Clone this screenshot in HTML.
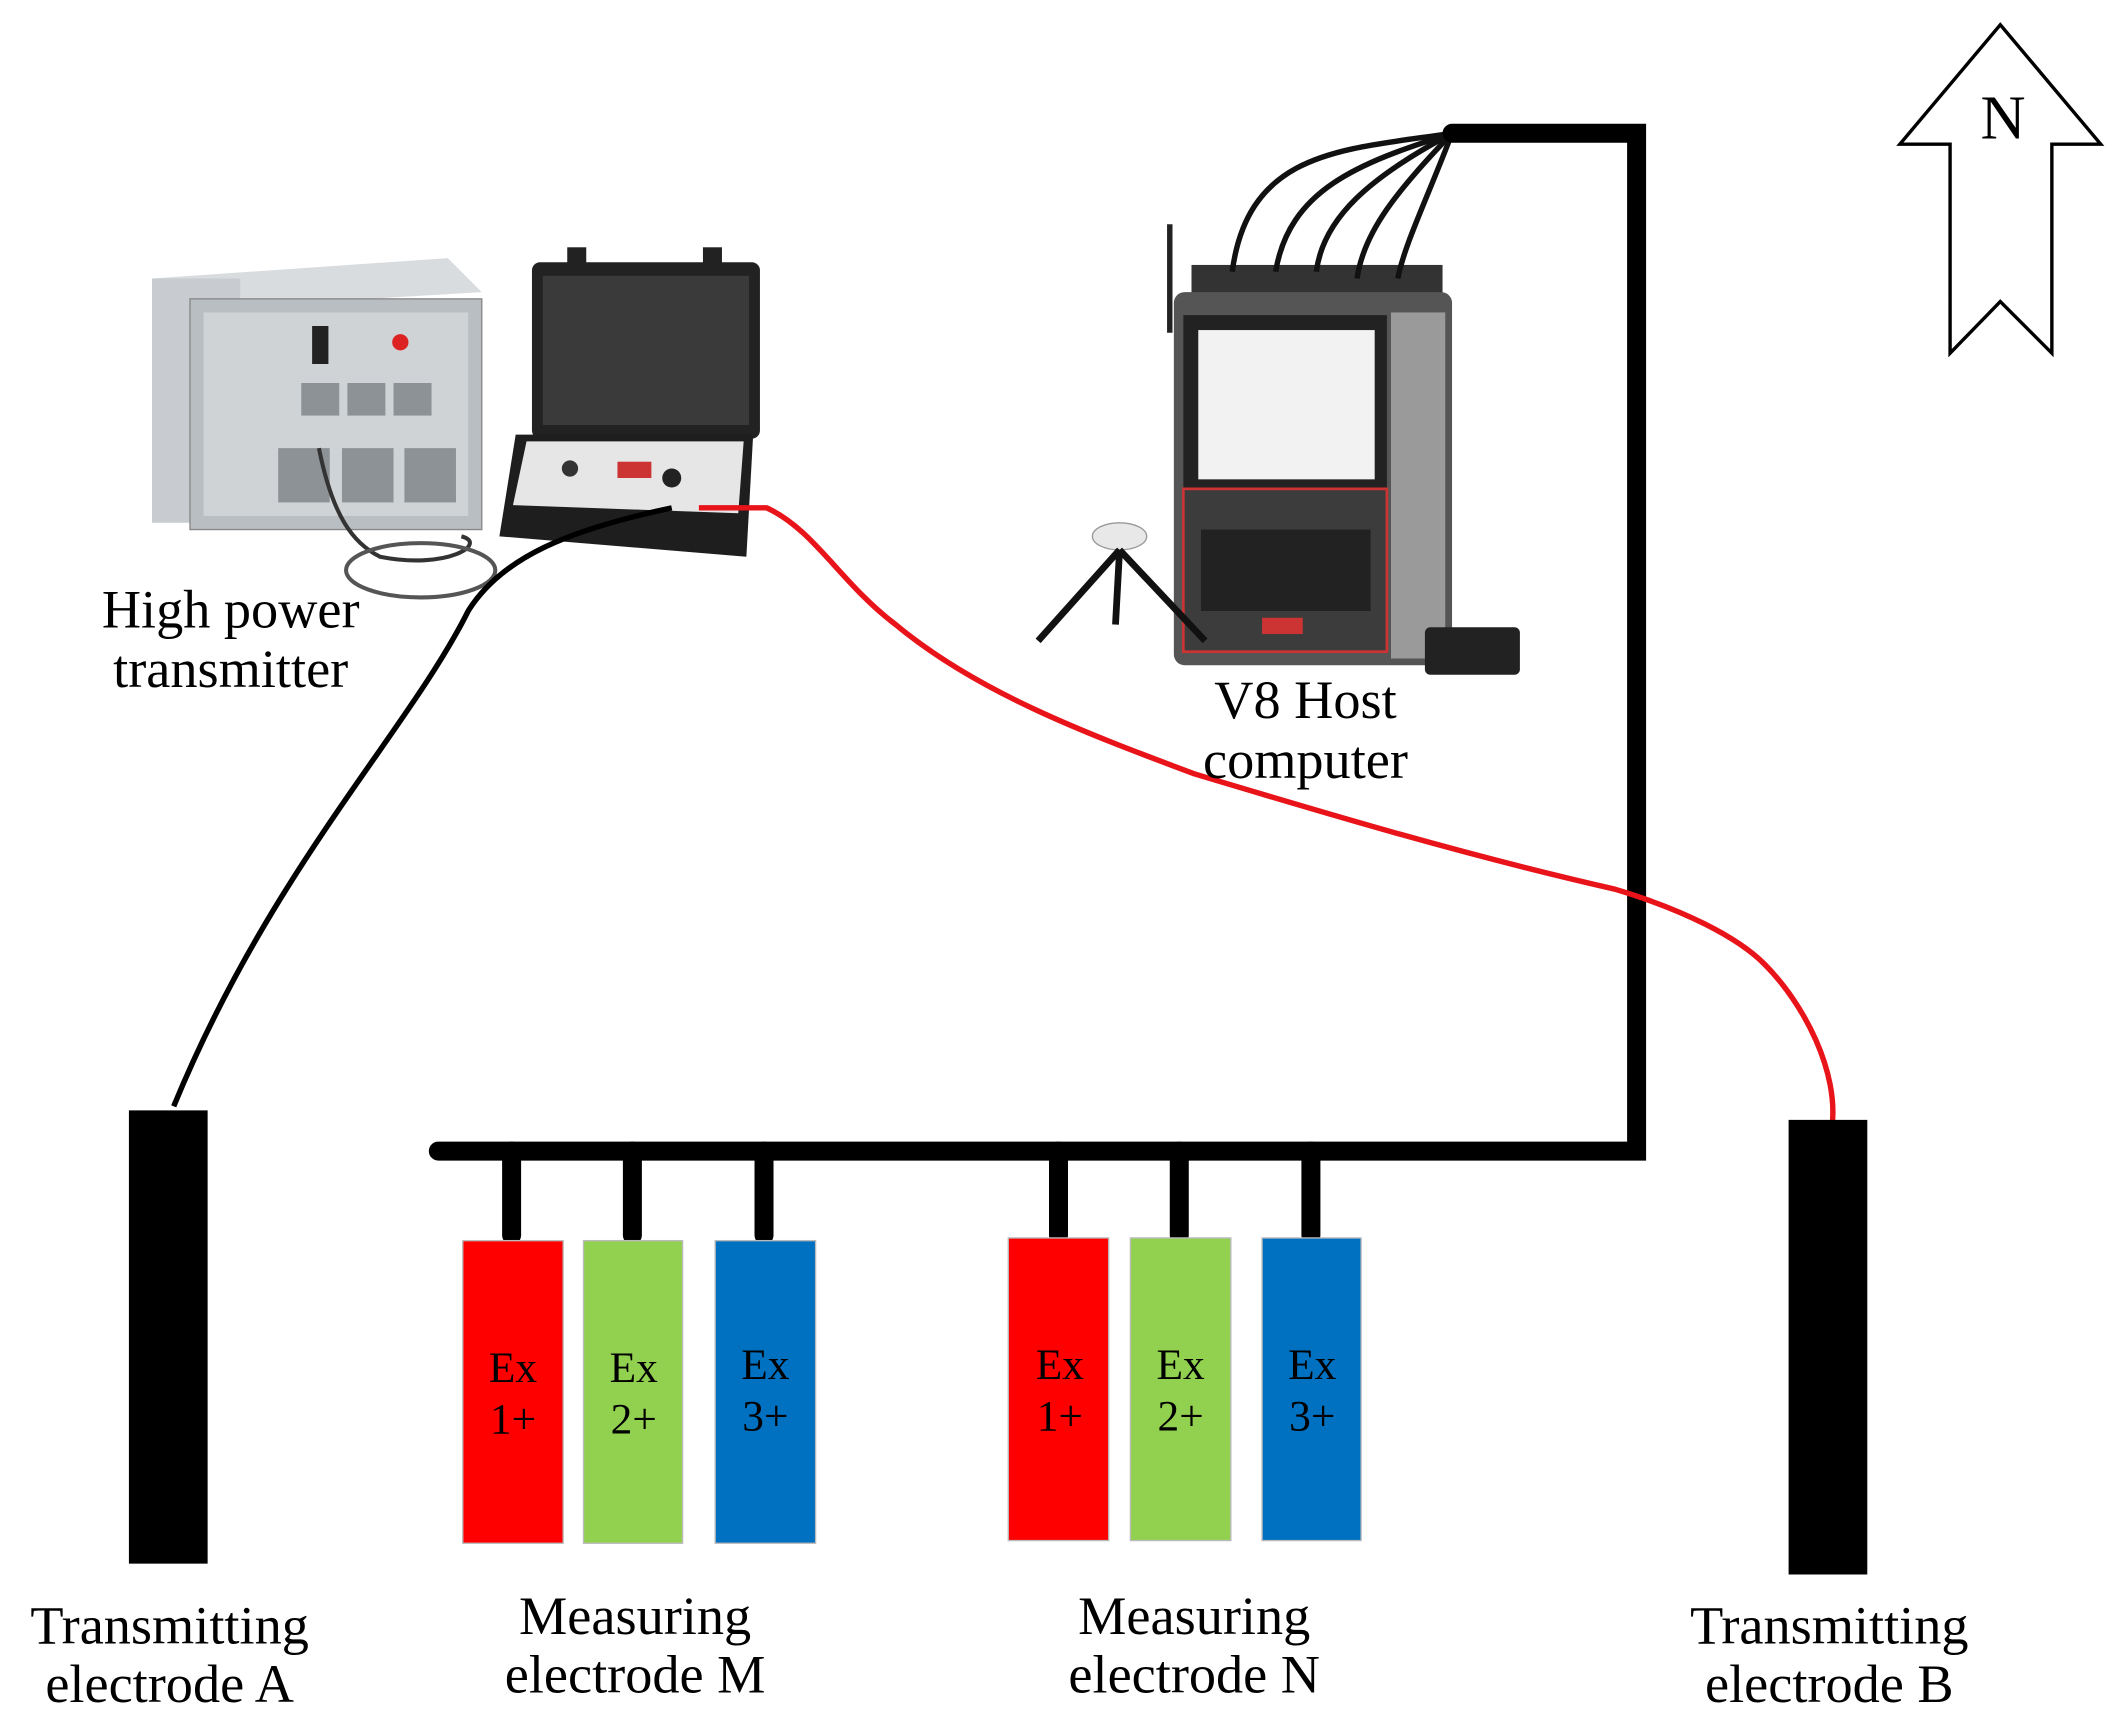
<!DOCTYPE html>
<html><head><meta charset="utf-8"><style>
html,body{margin:0;padding:0;background:#fff;}
svg{display:block;}
text{font-family:"Liberation Serif",serif;}
</style></head><body>
<svg width="2117" height="1720" viewBox="0 0 1560 1267" xmlns="http://www.w3.org/2000/svg">
<rect width="1560" height="1267" fill="#fff"/>
<polygon points="1474,18 1548,106 1512,106 1512,260 1474,222 1437,260 1437,106 1400,106" fill="#fff" stroke="#000" stroke-width="2.5"/>
<text x="1476" y="102" font-size="46" text-anchor="middle">N</text>

<polygon points="112,205 330,190 355,215 140,228" fill="#d9dcdf"/>
<rect x="112" y="205" width="65" height="180" fill="#c8ccd0"/>
<rect x="140" y="220" width="215" height="170" fill="#b9bec3" stroke="#888"/>
<rect x="150" y="230" width="195" height="150" fill="#cfd3d6"/>
<g fill="#8d9296">
<rect x="222" y="282" width="28" height="24"/><rect x="256" y="282" width="28" height="24"/><rect x="290" y="282" width="28" height="24"/>
<rect x="205" y="330" width="38" height="40"/><rect x="252" y="330" width="38" height="40"/><rect x="298" y="330" width="38" height="40"/>
</g>
<rect x="230" y="240" width="12" height="28" fill="#222"/>
<circle cx="295" cy="252" r="6" fill="#d22"/>
<rect x="392" y="193" width="168" height="130" fill="#222" rx="6"/>
<rect x="400" y="203" width="152" height="110" fill="#3a3a3a"/>
<rect x="418" y="182" width="14" height="14" fill="#222"/><rect x="518" y="182" width="14" height="14" fill="#222"/>
<polygon points="380,320 555,320 550,410 368,395" fill="#1e1e1e"/>
<polygon points="388,325 548,325 544,378 378,372" fill="#e6e6e6"/>
<circle cx="495" cy="352" r="7" fill="#222"/><circle cx="420" cy="345" r="6" fill="#333"/>
<rect x="455" y="340" width="25" height="12" fill="#c33"/>
<path d="M235,330 C245,380 260,400 280,410 C330,420 360,400 340,395" stroke="#333" stroke-width="3" fill="none"/>
<ellipse cx="310" cy="420" rx="55" ry="20" stroke="#555" stroke-width="3" fill="none"/>

<line x1="862" y1="165" x2="862" y2="245" stroke="#222" stroke-width="4"/>
<rect x="878" y="195" width="185" height="30" fill="#333"/>
<rect x="865" y="215" width="205" height="275" fill="#555" rx="8"/>
<rect x="872" y="232" width="150" height="128" fill="#222"/>
<rect x="883" y="243" width="130" height="110" fill="#f2f2f2"/>
<rect x="872" y="360" width="150" height="120" fill="#3c3c3c" stroke="#c33" stroke-width="2"/>
<rect x="885" y="390" width="125" height="60" fill="#222"/>
<rect x="930" y="455" width="30" height="12" fill="#c33"/>
<rect x="1025" y="230" width="40" height="255" fill="#9a9a9a"/>
<rect x="1050" y="462" width="70" height="35" fill="#222" rx="4"/>
<ellipse cx="825" cy="395" rx="20" ry="10" fill="#e8e8e8" stroke="#999"/>
<path d="M825,405 L765,472 M825,405 L888,472 M825,405 L822,460" stroke="#111" stroke-width="5"/>
<g stroke="#111" stroke-width="4" fill="none">
<path d="M1070,98 C990,110 920,110 908,200"/>
<path d="M1070,98 C1000,120 950,140 940,200"/>
<path d="M1070,98 C1010,130 975,160 970,200"/>
<path d="M1070,98 C1030,140 1005,170 1000,205"/>
<path d="M1070,98 C1050,150 1035,180 1030,205"/>
</g>

<g stroke="#000" stroke-width="14" stroke-linecap="round" fill="none">
<polyline points="1070,98 1206,98 1206,848 323,848"/>
<line x1="377" y1="848" x2="377" y2="910"/><line x1="466" y1="848" x2="466" y2="910"/><line x1="563" y1="848" x2="563" y2="910"/>
<line x1="780" y1="848" x2="780" y2="910"/><line x1="869" y1="848" x2="869" y2="910"/><line x1="966" y1="848" x2="966" y2="910"/>
</g>

<path d="M495,374 C420,390 370,410 345,450 C300,540 200,640 128,815" stroke="#000" stroke-width="4" fill="none"/>
<path d="M515,374 L565,374 C600,390 620,430 660,460 C720,510 800,540 880,570 C980,600 1080,630 1190,655 C1240,670 1280,690 1300,710 C1330,740 1355,790 1350,830" stroke="#e8141a" stroke-width="4" fill="none"/>

<rect x="95" y="818" width="58" height="334" fill="#000"/>
<rect x="1318" y="825" width="58" height="335" fill="#000"/>

<g stroke="#bbb" stroke-width="1">
<rect x="341" y="914" width="74" height="223" fill="#fe0000"/>
<rect x="430" y="914" width="73" height="223" fill="#92d050"/>
<rect x="527" y="914" width="74" height="223" fill="#0070c0"/>
<rect x="743" y="912" width="74" height="223" fill="#fe0000"/>
<rect x="833" y="912" width="74" height="223" fill="#92d050"/>
<rect x="930" y="912" width="73" height="223" fill="#0070c0"/>
</g>
<g font-size="32" text-anchor="middle" fill="#000">
<text x="378" y="1018">Ex</text><text x="378" y="1056">1+</text>
<text x="467" y="1018">Ex</text><text x="467" y="1056">2+</text>
<text x="564" y="1016">Ex</text><text x="564" y="1054">3+</text>
<text x="781" y="1016">Ex</text><text x="781" y="1054">1+</text>
<text x="870" y="1016">Ex</text><text x="870" y="1054">2+</text>
<text x="967" y="1016">Ex</text><text x="967" y="1054">3+</text>
</g>

<g font-size="40" text-anchor="middle" fill="#000">
<text x="170" y="462">High power</text><text x="170" y="506">transmitter</text>
<text x="962" y="529">V8 Host</text><text x="962" y="573">computer</text>
<text x="125" y="1211">Transmitting</text><text x="125" y="1254">electrode A</text>
<text x="468" y="1204">Measuring</text><text x="468" y="1247">electrode M</text>
<text x="880" y="1204">Measuring</text><text x="880" y="1247">electrode N</text>
<text x="1348" y="1211">Transmitting</text><text x="1348" y="1254">electrode B</text>
</g>
</svg>
</body></html>
